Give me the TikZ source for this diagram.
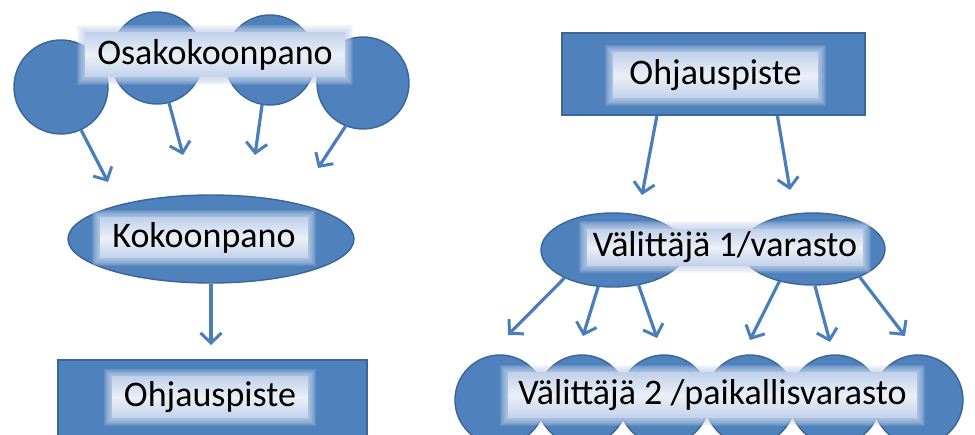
\documentclass[tikz,border=0pt]{standalone}
\usepackage{fontspec}
\setmainfont{Carlito}
\usetikzlibrary{arrows.meta,shapes.geometric,calc}

\definecolor{shapefill}{HTML}{4F81BD}
\definecolor{shapeline}{HTML}{3A6698}
\definecolor{arrowcol}{HTML}{4A7EBB}
\definecolor{lbledge}{HTML}{C2D1EA}
\definecolor{lblmid}{HTML}{EBF0F8}
\definecolor{glowcol}{HTML}{C9D6EC}

\tikzset{
  blob/.style={circle, fill=shapefill, draw=shapeline, line width=1.4pt, inner sep=0pt},
  oval/.style={ellipse, fill=shapefill, draw=shapeline, line width=1.4pt, inner sep=0pt},
  panel/.style={rectangle, fill=shapefill, draw=shapeline, line width=1.4pt, inner sep=0pt},
  lbl/.style={rectangle, inner sep=0pt, top color=lbledge, bottom color=lbledge,
              middle color=lblmid, font=\fontsize{36}{40}\selectfont, text=black},
  link/.style={draw=arrowcol, line width=3.2pt,
               -{Straight Barb[length=10pt,width=21pt,line width=3pt]}},
}

% soft-edged label: name, x, y, width, height, text
\newcommand\glowlabel[6]{%
  \foreach \g in {8,7,6,5,4,3,2,1} {%
    \fill[glowcol, opacity=0.16] (#2-#4/2-\g, #3-#5/2-\g) rectangle (#2+#4/2+\g, #3+#5/2+\g);}
  \node[lbl, minimum width=#4, minimum height=#5] (#1) at (#2,#3) {#6};
}

\begin{document}
\begin{tikzpicture}[x=1pt, y=-1pt]
\useasboundingbox (0,0) rectangle (975,435);
\fill[white] (0,0) rectangle (975,435);

% ---- left: sub-assemblies -> assembly -> control point
\node[blob, minimum size=94] (sa1) at (61,87) {};
\node[blob, minimum size=92] (sa2) at (157,58) {};
\node[blob, minimum size=90] (sa3) at (270,60) {};
\node[blob, minimum size=92] (sa4) at (363,83) {};
\glowlabel{osa}{215}{55}{260}{44}{Osakokoonpano}

\coordinate (e1) at (108,182);
\coordinate (e2) at (183,155);
\coordinate (e3) at (255,155);
\coordinate (e4) at (318,168);
\draw[link] (sa1.-65) -- (e1);
\draw[link] (sa2.-75) -- (e2);
\draw[link] (sa3.-100) -- (e3);
\draw[link] (sa4.-112) -- (e4);

\node[oval, minimum width=286, minimum height=88] (kok) at (211,239) {};
\glowlabel{koklbl}{204}{238}{208}{40}{Kokoonpano}

\coordinate (e5) at (211,345);
\draw[link] (kok.south) -- (e5);

\node[panel, minimum width=309, minimum height=100] (ohjL) at (212.5,410) {};
\glowlabel{ohjLlbl}{210}{397.5}{196}{41}{Ohjauspiste}

% ---- right: control point -> distributors -> local stores
\node[panel, minimum width=303, minimum height=82] (ohjR) at (713.5,74) {};
\glowlabel{ohjRlbl}{715.5}{75.5}{205}{45}{Ohjauspiste}

\coordinate (f1) at (642,195);
\coordinate (f2) at (790,190);
\draw[link] ($(ohjR.south west)!0.314!(ohjR.south east)$) -- (f1);
\draw[link] ($(ohjR.south west)!0.71!(ohjR.south east)$) -- (f2);

\node[oval, minimum width=144, minimum height=74] (v1a) at (613,250) {};
\node[oval, minimum width=144, minimum height=72] (v1b) at (813,249) {};
\glowlabel{v1lbl}{725}{247.5}{276}{36}{Välittäjä 1/varasto}

\coordinate (g1) at (508,335);
\coordinate (g2) at (583,336);
\coordinate (g3) at (657,338);
\coordinate (g4) at (750,340);
\coordinate (g5) at (830,342);
\coordinate (g6) at (905,336);
\draw[link] (v1a.-150) -- (g1);
\draw[link] (v1a.-112) -- (g2);
\draw[link] (v1a.-54) -- (g3);
\draw[link] (v1b.-136) -- (g4);
\draw[link] (v1b.-87) -- (g5);
\draw[link] (v1b.-31) -- (g6);

\node[blob, minimum size=90] (p1) at (500,400) {};
\node[blob, minimum size=90] (p2) at (582,400) {};
\node[blob, minimum size=90] (p3) at (664,400) {};
\node[blob, minimum size=90] (p4) at (750,400) {};
\node[blob, minimum size=90] (p5) at (835,400) {};
\node[blob, minimum size=90] (p6) at (918,400) {};
\glowlabel{v2lbl}{712.5}{395.5}{409}{45}{Välittäjä 2 /paikallisvarasto}
\end{tikzpicture}
\end{document}
